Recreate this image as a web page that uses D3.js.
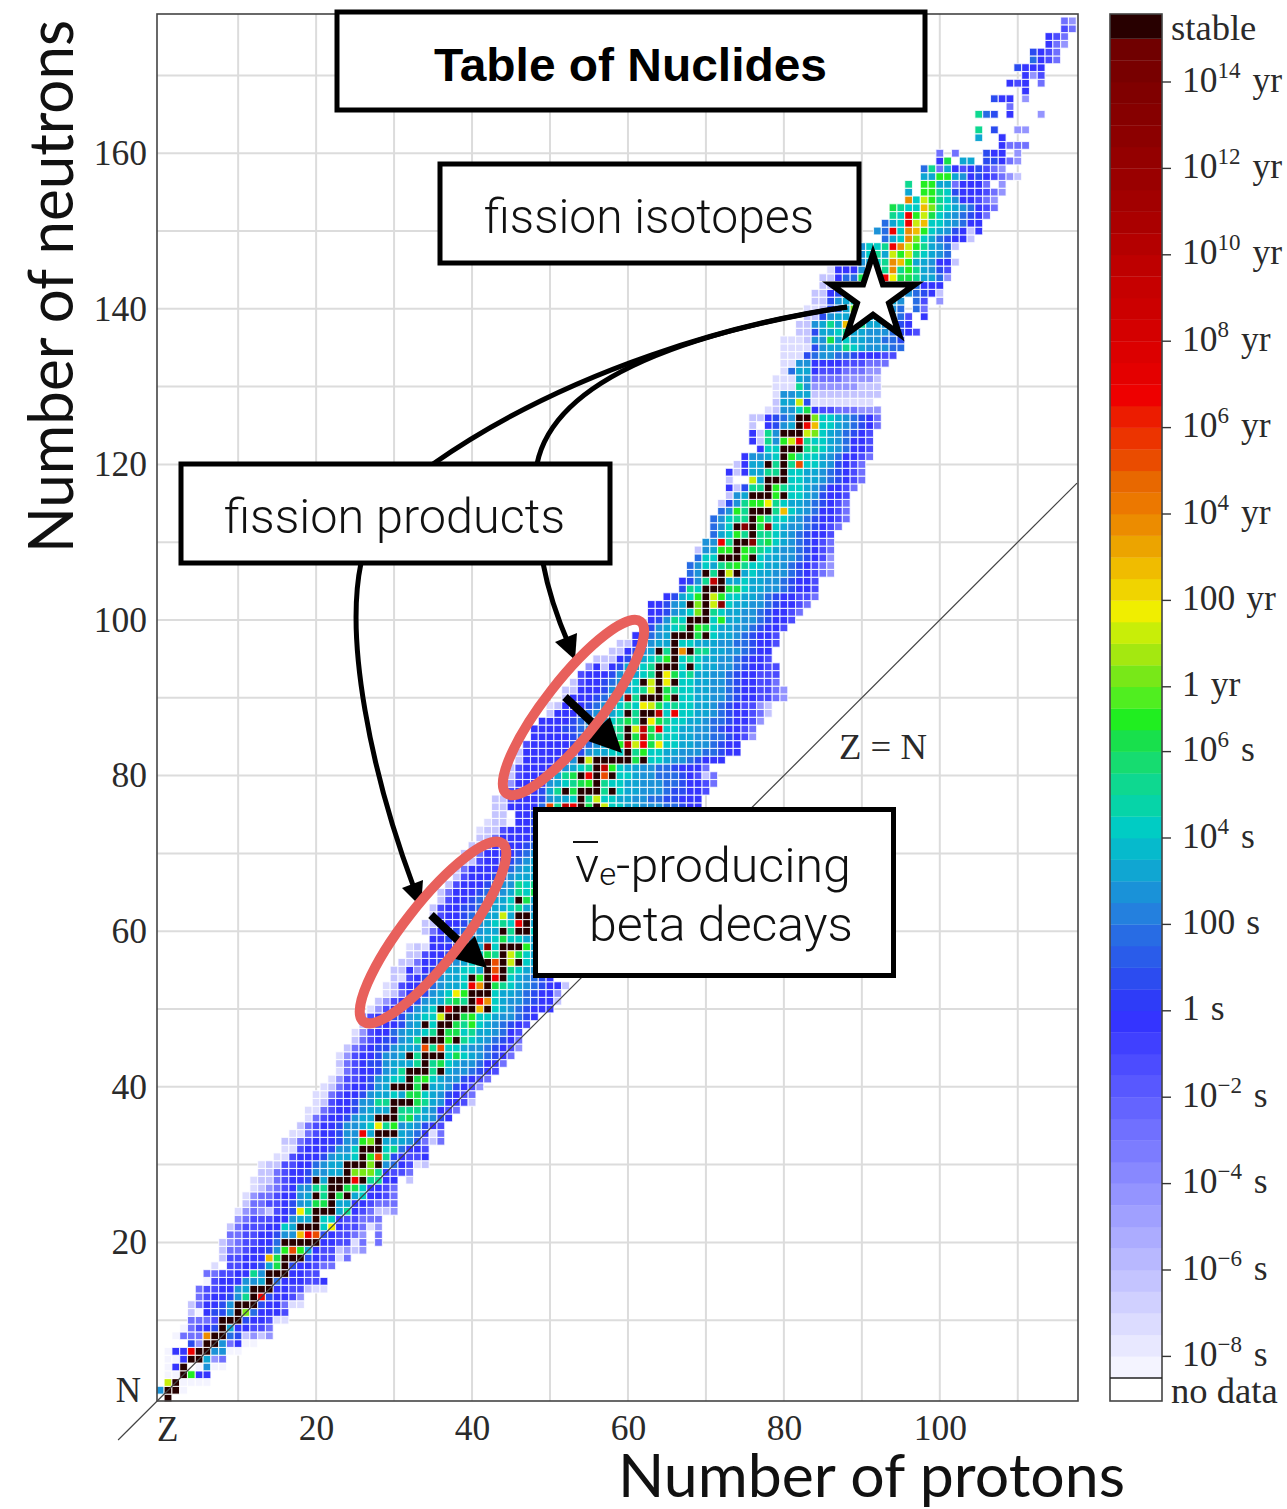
<!DOCTYPE html>
<html>
<head>
<meta charset="utf-8">
<script src="https://cdn.jsdelivr.net/npm/d3@7"></script>
<style>
    html, body { margin: 0; padding: 0; background: #fff; }
    svg { display: block; }
    .serif { font-family: "Liberation Serif", serif; fill: #2a2a2a; }
    .light { font-family: "Roboto", "Liberation Sans", sans-serif; font-weight: 300; fill: #111; }
</style>
</head>
<body>
<script>
"use strict";

// first proton number of each row, index = neutron number
const rowFirstZ = [
    1, 0, 1, 1, 1, 1, 1, 4, 2, 3,
    4, 4, 4, 5, 5, 6, 6, 7, 8, 8,
    8, 9, 9, 10, 10, 11, 11, 12, 12, 13,
    13, 15, 16, 16, 17, 18, 19, 19, 20, 20,
    21, 22, 23, 23, 23, 24, 25, 25, 26, 26,
    27, 28, 29, 29, 30, 30, 31, 32, 32, 35,
    34, 34, 35, 35, 36, 36, 37, 38, 38, 39,
    39, 40, 41, 41, 42, 43, 43, 43, 45, 45,
    45, 45, 46, 46, 47, 48, 48, 49, 50, 50,
    52, 52, 53, 54, 55, 56, 58, 59, 61, 62,
    63, 63, 63, 65, 67, 67, 68, 68, 69, 69,
    70, 71, 71, 71, 72, 72, 73, 73, 73, 73,
    74, 75, 77, 76, 76, 76, 76, 78, 79, 79,
    79, 79, 80, 80, 80, 80, 80, 82, 82, 83,
    83, 84, 84, 85, 85, 86, 90, 90, 90, 93,
    92, 93, 94, 94, 96, 96, 96, 98, 98, 100,
    100, 108, 105, 105, 0, 105, 109, 107, 111, 109,
    111, 110, 112, 112, 114, 114, 116, 116
];

// half-life code of each nuclide in the row, "." = no data, "#" = stable
const rowCodes = [
    "#", "j##a", "q#aaaa", "aa#ogg", "ag#.ajaa", "aag##kde", "aggv##jjaa", "hd##jegaa",
    "aeeet##ihcdcd", "aefgh#kggffe", "eeef###hggfbb", "caghhj#pigggf", "cegghj###hggebb",
    "efgghjm#vhggfd", "effggjk###ggffcbb", "afgggjjk#igggffg", "eeffggmj###ggff",
    "b.ffgghkn#hggfee", "cffgggsn###hgffbe", "ceefgghjouokgffcdcd", "cdeffggi#####ggffbe.e",
    "eeffgghjjsvuhgffed.e", "cefffgglk###lrgffebd", "defffggjkk#llgffeee",
    "bdedcfghrm###kmgfeccd", "ceeffghjknn#kkggfeee", "bdeefggjk#m#n#klggfe",
    "bcdefgjjmm##nnlggfe", "bccefggh#k###v#mmgg.c", "ccefgghjjkk#pppmgffe",
    "bccffggijkk###p#jigfbc", "bbfggghjkkl#oumhgffg", "bbfggghjjl###lmiggf",
    "ccefggghjjop#kkkjhece", "bbefgghjjvk###kjigbe", "cefgghjjklrmojkjhgf",
    "befgghjkk###mnkkjhg", "bbefgghjkkk#mmmkjgfe", "bcfgghjjmm###nmkjggfc",
    "bbefgghjkklknnlkjhgfe", "bcefgghjk###n#kkjhgfd", "bdffghjkll#nolkjjhgfe",
    "befgghjkm###m#kjjihgf", "cefghhjkkkm#mnlkjjigge", "bdfgghjjk#m###lnlkjihge",
    "cefghhjkkkumullkjjihgfd", "cefghhjkm###o#mlkjihge", "bdfggijkklm#nnlmkkjigf",
    "cefgghjk#l##nmolkjihgf", "dfgghhjkllq##nollkjjihg", "bdfgghjkl#w###s#lkjihggg",
    "cdfgghjkkmnm#vtlkjjihggc", "bcegghjklro###lkkjihggd", "bcfgghijkklvt#nmlkjihggc",
    "cbfghijkkl#o#v#lkjihg", "ccgdghjkkllk#u#mlkj", "ccegghjjklm#u#q#lk",
    "ccfgghjkklnm#qnlk", "bcbggghjkkxl###ok", "gghhijkklnllkk", "cegghijjkk#m##l",
    "ccggghjjklmlv#k", "cfgghijkkqk##k", "cfgghhijkklmkj", "cfgghijkkl#nk",
    "ceggghijjkmln", "cfggghijjmlm", "cfggghijkkk", "cegggghijkk", "ccfggghijk",
    "ccegggghij", "ccegggghi", "cceggggh", "bccfgggh", "bccaggh", "cc.gghh",
    "ccggggiumwv#n#qllkkjjjiihgg", "ccfggghjkkl#mqllkkjjiihhggg", "fggghkm#n###m#lkkjjjihhggf",
    "dggggjklmno#mllkkjjjiihggfe", "cfgggikmn#v#u#llkjjiiihgfce", "cfgggghjklm#wolkkjjiihggge",
    "cggggggj#q#####n#llkjjihggg", "cggggggghjkkll#mollkkjjjiihgg", "fggggghhijklowqvnrllkkjjihgg",
    "ggggghijjkkm#nwnmllkkjjiihgfd", "gggghhijkkmm#qwnvllkkjjihggfe", "gggghijkklmnm#rnmllkkjiihggfd",
    "cggghijkkl#m##wlvllkkjihggfec", "bcggghijklmlrqnlmllkkjihgffdc", "cggghijkxm###o#llkkjjihggffed",
    "ccggghjjklmq#nmllkkjjihggffed", "cfgghijkl#q#r#llkkjjihggffe", "fggghjkklm#rnlmkkjjihggfff",
    "dgcghkklm###l#lkkjjihggff", "cccghjklmo#lmlkkjjihggf", "ccghjk#m#t#mmkkjjihgg",
    "ccghjkk#llkkkjjiihggf", "ggijk###n#lkkjihggf", "ghjklm#onlkkjjihggf",
    "ghjml###lokkjjihggf", "gghjklp#mlkkjjihggfe", "gghjk#p#qxlkkjjihggfe",
    "ghklo#qollkkjihggffe", "hml###nnlkkjjihggf", "ghjmw#kklkkjjihggf",
    "ij#m#q#klkkjjihgfed", "ijlkmnomllkkjihgfed", "ill###o#lkkjjihgfd", "cjkoo#onmlkjjihgfe",
    "jjvm##xmnlkjihgfe", "iklom#mmlkjihggf", "ijl#x#nxlkjjihgfe", "ijlmm#omllkjihggfe",
    "ijom###mslkjiggfe", "chjmoormlkkjihgfe", "cjk###o#llkjhggf", "gchmm#omllkjiggfe",
    "c..qk###llkkjihgfe", "gcgkkmm#llkkjihgfe", "cgkk#m#mullkjhgfe", "gjjkl#omllkjiggfe",
    "gll###mmlkjiggf", "gcmjoqvmllkjiggf", "gcmj###qplkjihgf", "c.ghjk#vsllkjihge",
    "ccghij##pllkjihge", "bcjjlngffeeeddd", "ckkqhbbbbbbbb", "bjjkkccccccccc",
    "bbbmjddddddccc", "bbbkjeeeeddddc", "bikkgfffeeedd", "bbjjggggfffeee",
    "bbbhijjiihgggff", "bbbbhjkkmlkjjjii", "bbbcjjnklkkjjiih", "cchkklmkkjjjihgf",
    "ccjkmksnmkkjjhg", "cchjkkllkkjjif.g", "bbchikpllkkji.ie", "cchjkllmlkkj.if.d",
    "ccghiklmlkkjjihgc", "ccghiklmlkjjiggg", "ccgiinoqvrnnmkkid", "bgggjmomtmomkjhf",
    "jklmtsokkjggc", "jlmkqoqmlkji", "jllmvtqomkjic", "ikltplkihggc", "jivltsolkjhgcg",
    "iklvqsllkjigg", "mlvoqnlkjihge", "nmllspmlkjigfe", "tlqomljggfed", "k.oomlhgggfed",
    "m.ookkeggge.d", "kkookjghgfedc", "imekgfghfed", "gn.kk.hhged", "e.e...hgg.d",
    "geee", "k..g", "m.h..dd", "", "mih.g...d", "e", "hgg.d", "g", "gfg.e", "gdf",
    "hggg", "igfe", "hgfe", "ged", "gfe", "fe", "ed"
];

// colour bar bands, shortest half-life first
const bandColors = [
    "#f4f4ff", "#e8e8ff", "#dcdcff", "#d0d0ff", "#c4c4ff", "#b8b8ff", "#acacff", "#a0a0ff",
    "#9494ff", "#8888ff", "#7c7cff", "#7070ff", "#6464ff", "#5858ff", "#4c4cff", "#4040ff",
    "#3434ff", "#2e3cf8", "#2c4cf0", "#2a5cea", "#286ce4", "#2480de", "#1a92d8", "#10a6d2",
    "#06bacc", "#00ccc4", "#06d4a8", "#0ed890", "#16dc70", "#18e04c", "#20ee20", "#50ee20",
    "#78e818", "#a4e810", "#c8ee08", "#f0ee00", "#f0d400", "#f0bc00", "#eca400", "#ec8c00",
    "#ec7800", "#e86800", "#ea4c00", "#ec3400", "#ec1c00", "#ee0000", "#e40000", "#dc0000",
    "#d40000", "#cc0000", "#c60000", "#be0000", "#b40000", "#aa0000", "#a20000", "#9a0000",
    "#940000", "#8c0000", "#860000", "#800000", "#780000", "#700000"
];
const stableColor = "#280000";

// which band each half-life code sits in
const codeLetters = "abcdefghijklmnopqrstuvwx".split("");
const codeBands = [0, 2, 4, 8, 11, 14, 16, 18, 20, 22, 23, 25, 27, 29, 30, 32, 34, 35, 37, 39, 42, 45, 51, 58];

// colour bar ticks
const barTickBand = [1, 5, 9, 13, 17, 21, 25, 29, 32, 36, 40, 44, 48, 52, 56, 60];
const barTickBase = ["10", "10", "10", "10", "1", "100", "10", "10", "1", "100", "10", "10", "10", "10", "10", "10"];
const barTickPower = ["\u22128", "\u22126", "\u22124", "\u22122", "", "", "4", "6", "", "", "4", "6", "8", "10", "12", "14"];
const barTickUnit = ["s", "s", "s", "s", "s", "s", "s", "s", "yr", "yr", "yr", "yr", "yr", "yr", "yr", "yr"];

const protonTicks = [20, 40, 60, 80, 100];
const neutronTicks = [20, 40, 60, 80, 100, 120, 140, 160];
const gridProtons = d3.range(10, 120, 10);
const gridNeutrons = d3.range(10, 180, 10);

const measurements = {
    width: 1287,
    height: 1509,
    left: 157,
    right: 1078,
    top: 14,
    bottom: 1401,
    barLeft: 1110,
    barRight: 1162,
    barTop: 38.8,
    barBottom: 1378
};

const svg = d3.select("body").append("svg")
    .attr("width", measurements.width)
    .attr("height", measurements.height);

const scaleZ = d3.scaleLinear().domain([0, 100]).range([160.2, 939.8]);
const scaleN = d3.scaleLinear().domain([0, 160]).range([1398, 153.2]);
const scaleBar = d3.scaleLinear().domain([0, bandColors.length]).range([measurements.barBottom, measurements.barTop]);

function cellColor(code) {
    if (code === "#") return stableColor;
    return bandColors[codeBands[codeLetters.indexOf(code)]];
}

function drawGrid() {
    svg.append("g").selectAll("line").data(gridProtons).enter().append("line")
        .attr("x1", d => scaleZ(d)).attr("x2", d => scaleZ(d))
        .attr("y1", measurements.top).attr("y2", measurements.bottom)
        .attr("stroke", "#dcdcdc").attr("stroke-width", 2);
    svg.append("g").selectAll("line").data(gridNeutrons).enter().append("line")
        .attr("y1", d => scaleN(d)).attr("y2", d => scaleN(d))
        .attr("x1", measurements.left).attr("x2", measurements.right)
        .attr("stroke", "#dcdcdc").attr("stroke-width", 2);
}

function drawCells() {
    const cells = [];
    rowCodes.forEach((codes, n) => {
        codes.split("").forEach((code, i) => {
            if (code !== ".") cells.push({ z: rowFirstZ[n] + i, n: n, code: code });
        });
    });
    const w = scaleZ(1) - scaleZ(0);
    const h = scaleN(0) - scaleN(1);
    svg.append("g")
        .attr("filter", "url(#soft)")
        .selectAll("rect").data(cells).enter().append("rect")
        .attr("x", d => scaleZ(d.z) - w / 2)
        .attr("y", d => scaleN(d.n) - h / 2)
        .attr("width", w)
        .attr("height", h)
        .attr("fill", d => cellColor(d.code))
        .attr("stroke", "rgba(255,255,255,0.8)")
        .attr("stroke-width", 1.1);
}

function drawAxes() {
    // Z = N line runs out of the frame at the lower left
    svg.append("line")
        .attr("x1", scaleZ(-5.4)).attr("y1", scaleN(-5.4))
        .attr("x2", scaleZ(117.6)).attr("y2", scaleN(117.6))
        .attr("stroke", "#444").attr("stroke-width", 1.2);

    svg.append("rect")
        .attr("x", measurements.left).attr("y", measurements.top)
        .attr("width", measurements.right - measurements.left)
        .attr("height", measurements.bottom - measurements.top)
        .attr("fill", "none").attr("stroke", "#444").attr("stroke-width", 1.6);

    const xAxis = d3.axisBottom(scaleZ).tickValues(protonTicks).tickSize(0).tickPadding(14);
    const yAxis = d3.axisLeft(scaleN).tickValues(neutronTicks).tickSize(0).tickPadding(10);

    const gx = svg.append("g").attr("transform", `translate(0,${measurements.bottom})`).call(xAxis);
    const gy = svg.append("g").attr("transform", `translate(${measurements.left},0)`).call(yAxis);
    gx.select(".domain").remove();
    gy.select(".domain").remove();
    svg.selectAll(".tick text")
        .attr("class", "serif")
        .style("font-family", '"Liberation Serif", serif')
        .style("font-size", "35.5px")
        .style("fill", "#2a2a2a");

    svg.append("text").attr("class", "serif").attr("x", 141).attr("y", 1402)
        .attr("text-anchor", "end").style("font-size", "35px").text("N");
    svg.append("text").attr("class", "serif").attr("x", 157).attr("y", 1441)
        .style("font-size", "35px").text("Z");
    svg.append("text").attr("class", "serif").attr("x", 839).attr("y", 759)
        .attr("textLength", 88).attr("lengthAdjust", "spacingAndGlyphs")
        .style("font-size", "35px").text("Z = N");

    const big = '"Lato", sans-serif';
    svg.append("text").attr("x", 618).attr("y", 1496.5)
        .attr("textLength", 507).attr("lengthAdjust", "spacingAndGlyphs")
        .style("font-family", big).style("font-size", "60px").style("fill", "#111")
        .text("Number of protons");
    svg.append("text").attr("transform", "translate(73,553) rotate(-90)")
        .attr("textLength", 533).attr("lengthAdjust", "spacingAndGlyphs")
        .style("font-family", big).style("font-size", "62px").style("fill", "#111")
        .text("Number of neutrons");
}

function drawColorBar() {
    const m = measurements;
    const g = svg.append("g");
    g.selectAll("rect.band").data(bandColors).enter().append("rect")
        .attr("class", "band")
        .attr("x", m.barLeft)
        .attr("y", (d, i) => scaleBar(i + 1))
        .attr("width", m.barRight - m.barLeft)
        .attr("height", scaleBar(0) - scaleBar(1) + 0.3)
        .attr("fill", d => d);
    g.append("rect")
        .attr("x", m.barLeft).attr("y", m.top)
        .attr("width", m.barRight - m.barLeft).attr("height", m.barTop - m.top)
        .attr("fill", stableColor);
    g.append("rect")
        .attr("x", m.barLeft).attr("y", m.top)
        .attr("width", m.barRight - m.barLeft).attr("height", m.bottom - m.top)
        .attr("fill", "none").attr("stroke", "#444").attr("stroke-width", 1.6);
    g.append("line")
        .attr("x1", m.barLeft).attr("x2", m.barRight)
        .attr("y1", m.barBottom).attr("y2", m.barBottom)
        .attr("stroke", "#222").attr("stroke-width", 1.6);

    barTickBand.forEach((band, i) => {
        const y = scaleBar(band);
        g.append("line")
            .attr("x1", m.barRight).attr("x2", m.barRight + 9)
            .attr("y1", y).attr("y2", y)
            .attr("stroke", "#333").attr("stroke-width", 1.4);
        const label = g.append("text").attr("class", "serif")
            .attr("x", m.barRight + 20).attr("y", y + 9.5)
            .style("font-size", "35.5px");
        label.append("tspan").text(barTickBase[i]);
        if (barTickPower[i]) {
            label.append("tspan").attr("dy", -14).style("font-size", "23px").text(barTickPower[i]);
            label.append("tspan").attr("dy", 14).attr("dx", 3).text(" " + barTickUnit[i]);
        } else {
            label.append("tspan").attr("dx", 2).text(" " + barTickUnit[i]);
        }
    });

    g.append("text").attr("class", "serif").attr("x", 1171).attr("y", 40)
        .style("font-size", "36.6px").text("stable");
    g.append("text").attr("class", "serif").attr("x", 1171).attr("y", 1403)
        .style("font-size", "36.6px").text("no data");
}

function drawBox(x0, y0, x1, y1) {
    svg.append("rect")
        .attr("x", x0).attr("y", y0)
        .attr("width", x1 - x0).attr("height", y1 - y0)
        .attr("fill", "#fff").attr("stroke", "#000").attr("stroke-width", 5);
}

function drawNotes() {
    const curve = d => svg.append("path").attr("d", d)
        .attr("fill", "none").attr("stroke", "#000").attr("stroke-width", 5);

    curve("M847,307 C740,322 570,368 433,464");
    curve("M847,307 C700,330 555,375 537,464");
    curve("M361,563 C345,640 370,770 414,888");
    curve("M543,563 C548,590 556,615 569,645");

    // heads of the curved arrows
    const head = pts => svg.append("polygon").attr("points", pts).attr("fill", "#000");
    head("421,907 402,888 423,880");
    head("575,660 555,642 577,633");

    // straight arrows from the ellipses to the stable line
    svg.append("line").attr("x1", 565).attr("y1", 697).attr("x2", 600).attr("y2", 730)
        .attr("stroke", "#000").attr("stroke-width", 8);
    head("622,753 585,740 610,717");
    svg.append("line").attr("x1", 431).attr("y1", 915).attr("x2", 465).attr("y2", 947)
        .attr("stroke", "#000").attr("stroke-width", 8);
    head("487,968 452,958 475,936");

    [[573.5, 707.5, 109, 28], [433, 932.5, 113, 29]].forEach(c => {
        svg.append("ellipse")
            .attr("rx", c[2]).attr("ry", c[3])
            .attr("transform", `translate(${c[0]},${c[1]}) rotate(-52)`)
            .attr("fill", "none").attr("stroke", "#e8605c").attr("stroke-width", 10);
    });

    drawBox(337, 12, 925, 110);
    drawBox(440, 164, 859, 263);
    drawBox(181, 464, 610, 563);
    drawBox(535.5, 809.5, 893.5, 975.5);

    svg.append("path")
        .attr("d", d3.symbol().type(d3.symbolStar).size(2173)())
        .attr("transform", "translate(873,298)")
        .attr("fill", "#fff").attr("stroke", "#000").attr("stroke-width", 6);

    svg.append("text").attr("x", 434).attr("y", 81)
        .attr("textLength", 393).attr("lengthAdjust", "spacingAndGlyphs")
        .style("font-family", '"Liberation Sans", sans-serif').style("font-weight", "bold")
        .style("font-size", "47px").style("fill", "#000")
        .text("Table of Nuclides");

    const note = (x, y, len, txt) => svg.append("text").attr("class", "light")
        .attr("x", x).attr("y", y)
        .attr("textLength", len).attr("lengthAdjust", "spacingAndGlyphs")
        .style("font-size", "49px").text(txt);
    note(484, 233, 330, "fission isotopes");
    note(224, 533, 341, "fission products");
    note(589, 941, 264, "beta decays");

    const nu = svg.append("text").attr("class", "light")
        .attr("x", 575).attr("y", 882)
        .attr("textLength", 276).attr("lengthAdjust", "spacingAndGlyphs")
        .style("font-size", "49px");
    nu.append("tspan").text("v");
    nu.append("tspan").attr("dy", 3).style("font-size", "32px").text("e");
    nu.append("tspan").attr("dy", -3).text("-producing");
    svg.append("line").attr("x1", 573).attr("x2", 598).attr("y1", 842).attr("y2", 842)
        .attr("stroke", "#111").attr("stroke-width", 2);
}

const defs = svg.append("defs");
defs.append("filter").attr("id", "soft")
    .attr("x", "0%").attr("y", "0%").attr("width", "100%").attr("height", "100%")
    .append("feGaussianBlur").attr("stdDeviation", 0.45);

drawGrid();
drawCells();
drawAxes();
drawColorBar();
drawNotes();
</script>
</body>
</html>
